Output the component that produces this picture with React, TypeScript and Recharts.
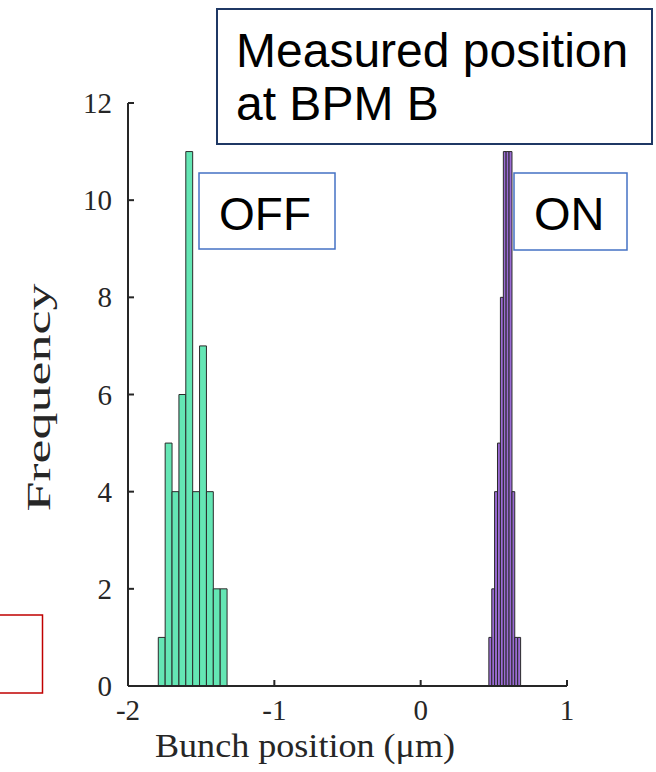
import { ComposedChart, XAxis, YAxis, ReferenceArea } from 'recharts';

// histogram bins (bin edges + counts)
const offEdges = [-1.793, -1.746, -1.699, -1.652, -1.605, -1.558, -1.511, -1.464, -1.417, -1.37, -1.323];
const offCounts = [1, 5, 4, 6, 11, 4, 7, 4, 2, 2];
const onEdges = [0.466, 0.486, 0.505, 0.525, 0.545, 0.565, 0.584, 0.604, 0.624, 0.643, 0.663, 0.683];
const onCounts = [1, 2, 4, 5, 8, 11, 11, 11, 4, 1, 1];

const xTicks = [-2, -1, 0, 1];
const yTicks = [0, 2, 4, 6, 8, 10, 12];

const OFF_COLOR = '#64e6b4';
const ON_COLOR = '#9a6bd4';
const EDGE = '#2a2a2a';
const AXIS = '#262626';
const SERIF = '"Liberation Serif", "DejaVu Serif", serif';
const SANS = '"Liberation Sans", Arial, sans-serif';

const toBins = (edges: number[], counts: number[], fill: string) =>
  counts.map((c, i) => ({ x0: edges[i], x1: edges[i + 1], count: c, fill }));

const bins = [...toBins(offEdges, offCounts, OFF_COLOR), ...toBins(onEdges, onCounts, ON_COLOR)];

const XTick = (props: any) => {
  const { x, y, payload } = props;
  return (
    <text x={x} y={y + 34} textAnchor="middle" fontFamily={SERIF} fontSize={29} fill={AXIS}>
      {payload.value}
    </text>
  );
};

const YTick = (props: any) => {
  const { x, y, payload } = props;
  return (
    <text x={x} y={y + 10} textAnchor="end" fontFamily={SERIF} fontSize={29} fill={AXIS}>
      {payload.value}
    </text>
  );
};

const YLabel = (props: any) => {
  const { viewBox } = props;
  const cy = viewBox.y + viewBox.height / 2 + 3;
  const x = 50;
  return (
    <text
      x={x}
      y={cy}
      transform={`rotate(-90 ${x} ${cy})`}
      textAnchor="middle"
      fontFamily={SERIF}
      fontSize={33}
      fill={AXIS}
      textLength={228}
      lengthAdjust="spacingAndGlyphs"
    >
      Frequency
    </text>
  );
};

const XLabel = () => (
  <text
    x={305}
    y={757}
    textAnchor="middle"
    fontFamily={SERIF}
    fontSize={33}
    fill={AXIS}
    textLength={300}
    lengthAdjust="spacingAndGlyphs"
  >
    Bunch position (μm)
  </text>
);

const Overlay = () => (
  <svg
    width={656}
    height={772}
    style={{ position: 'absolute', left: 0, top: 0, pointerEvents: 'none' }}
  >
    <rect x={217} y={9} width={435} height={135} fill="#ffffff" stroke="#1f3864" strokeWidth={2} />
    <text x={236} y={67} fontFamily={SANS} fontSize={48} fill="#000">Measured position</text>
    <text x={236} y={120} fontFamily={SANS} fontSize={48} fill="#000">at BPM B</text>

    <rect x={199} y={173} width={136} height={76} fill="#ffffff" stroke="#4472c4" strokeWidth={1.5} />
    <text x={219} y={230} fontFamily={SANS} fontSize={46} fill="#000">OFF</text>

    <rect x={514} y={173} width={113} height={77} fill="#ffffff" stroke="#4472c4" strokeWidth={1.5} />
    <text x={534} y={230} fontFamily={SANS} fontSize={47} fill="#000">ON</text>

    <rect x={-10} y={615} width={52.5} height={78} fill="none" stroke="#c00000" strokeWidth={1.5} />
  </svg>
);

const App = () => {
  return (
    <div style={{ position: 'absolute', left: 0, top: 0, width: 656, height: 772, background: '#fff' }}>
      <ComposedChart
        width={656}
        height={772}
        data={bins}
        margin={{ top: 103, right: 89, left: 68, bottom: 46 }}
      >
        <XAxis
          type="number"
          dataKey="x0"
          domain={[-2, 1]}
          ticks={xTicks}
          allowDataOverflow
          height={40}
          axisLine={{ stroke: AXIS, strokeWidth: 2 }}
          tickLine={{ stroke: AXIS, strokeWidth: 2 }}
          tickSize={-6}
          tickMargin={6}
          tick={<XTick />}
          label={<XLabel />}
        />
        <YAxis
          type="number"
          domain={[0, 12]}
          ticks={yTicks}
          allowDataOverflow
          width={60}
          axisLine={{ stroke: AXIS, strokeWidth: 2 }}
          tickLine={{ stroke: AXIS, strokeWidth: 2 }}
          tickSize={-6}
          tickMargin={22}
          tick={<YTick />}
          label={<YLabel />}
        />
        {bins.map((b, i) => (
          <ReferenceArea
            key={i}
            x1={b.x0}
            x2={b.x1}
            y1={0}
            y2={b.count}
            fill={b.fill}
            fillOpacity={1}
            stroke={EDGE}
            strokeWidth={1}
            ifOverflow="visible"
          />
        ))}
      </ComposedChart>
      <Overlay />
    </div>
  );
};

export default App;
